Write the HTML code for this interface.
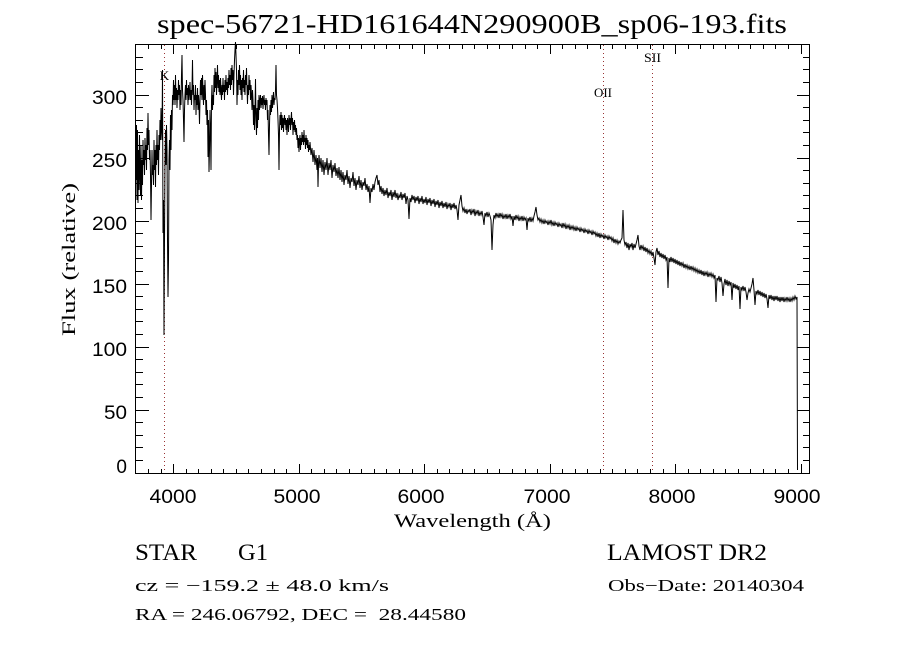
<!DOCTYPE html>
<html><head><meta charset="utf-8"><style>html,body{margin:0;padding:0;background:#fff}svg{display:block}</style></head>
<body>
<svg width="900" height="650" viewBox="0 0 900 650" xmlns="http://www.w3.org/2000/svg">
<rect x="0" y="0" width="900" height="650" fill="#fff"/>
<!-- title -->
<text x="157" y="33" font-family="Liberation Serif, serif" font-size="27" textLength="630" lengthAdjust="spacingAndGlyphs" fill="#000">spec-56721-HD161644N290900B_sp06-193.fits</text>

<!-- dotted line markers -->
<g stroke="#993333" stroke-width="1" stroke-dasharray="1,3" fill="none">
<line x1="164.5" y1="45" x2="164.5" y2="473"/>
<line x1="603.5" y1="45" x2="603.5" y2="473"/>
<line x1="652.5" y1="45" x2="652.5" y2="473"/>
</g>
<g font-family="Liberation Serif, serif" font-size="13" fill="#000" text-anchor="middle">
<text x="164.5" y="80">K</text>
<text x="603" y="97" textLength="18" lengthAdjust="spacingAndGlyphs">OII</text>
<text x="652.5" y="62" textLength="17" lengthAdjust="spacingAndGlyphs">SII</text>
</g>

<!-- spectrum -->
<polyline fill="none" stroke="#000" stroke-width="1" stroke-linejoin="miter" points="
136,180 136.5,125 137,200 137.5,130 138,203 138.5,150 139,190 139.5,135 140,175 140.5,195 141,145 141.5,200 142,160 142.5,185 143,140 143.5,165 144,150 144.5,175 145,138 145.5,160 146,145 146.5,170 147,128 147.5,150 148,113 148.5,145 149,130 149.5,160 150,150 150.5,175 151,220 151.5,185 152,150 152.5,175 153,165 153.5,185 154,140 154.5,170 155,150 155.5,187 156,145 156.5,165 157,130 157.5,160 158,145 158.5,175 159,135 159.5,150 160,120 160.5,140 161,108 161.5,130 162,140 162.5,70 163,233 163.5,200 164,335 164.5,240 165,160 165.5,130 166,165 166.5,125 167,150 167.5,240 168,297 168.5,260 169,160 169.5,140 170,170 170.5,115 171,150 171.5,110 172,130 172.5,95 173,105 173.5,80 174,100 174.5,85 175,105 175.5,75 176,100 176.5,88 177,108 177.5,90 178,100 178.5,80 179,95 179.5,85 180,110 180.5,90 181,105 181.5,75 182,55 182.5,90 183,100 183.5,120 184,142 184.5,110 185,95 185.5,85 186,100 186.5,80 187,95 187.5,88 188,105 188.5,85 189,100 189.5,92 190,82 190.5,100 191,90 191.5,105 192,88 192.5,60 193,95 193.5,85 194,110 194.5,95 195,100 195.5,85 196,115 196.5,95 197,105 197.5,88 198,110 198.5,95 199,105 199.5,124 200,100 200.5,80 201,95 201.5,78 202,100 202.5,75 203,90 203.5,105 204,85 204.5,100 205,80 205.5,95 206,115 206.5,100 207,125 207.5,110 208,157 208.5,120 209,172 209.5,150 210,110 210.5,130 211,170 211.5,100 212,85 212.5,110 213,95 213.5,105 214,75 214.5,92 215,68 215.5,88 216,72 216.5,95 217,80 217.5,65 218,88 218.5,75 219,92 219.5,80 220,95 220.5,78 221,90 221.5,100 222,85 222.5,95 223,78 223.5,92 224,85 224.5,100 225,80 225.5,92 226,75 226.5,90 227,82 227.5,95 228,78 228.5,88 229,70 229.5,85 230,75 230.5,90 231,68 231.5,85 232,65 232.5,80 233,70 233.5,95 234,75 234.5,60 235,50 235.5,42 236,55 236.5,70 237,105 237.5,80 238,95 238.5,70 239,85 239.5,65 240,90 240.5,75 241,95 241.5,80 242,100 242.5,78 243,88 243.5,70 244,92 244.5,80 245,95 245.5,75 246,85 246.5,68 247,88 247.5,104 248,85 248.5,95 249,75 249.5,90 250,80 250.5,100 251,85 251.5,95 252,110 252.5,90 253,100 253.5,125 254,105 254.5,130 255,110 255.5,79 256,120 256.5,135 257,108 257.5,128 258,100 258.5,120 259,95 259.5,110 260,100 260.5,95 261,108 261.5,98 262,105 262.5,96 263,109 263.5,100 264,95 264.5,105 265,100 265.5,110 266,98 266.5,105 267,100 267.5,120 268,110 268.5,135 269,155 269.5,125 270,105 270.5,115 271,100 271.5,112 272,95 272.5,108 273,100 273.5,92 274,105 274.5,98 275,100 275.5,90 276,65 276.5,95 277,100 277.5,108 278,120 278.5,135 279,170 279.5,130 280,115 280.5,125 281,112 281.5,130 282,115 282.5,128 283,118 283.5,132 284,120 284.5,115 285,125 285.5,118 286,130 286.5,120 287,135 287.5,118 288,122 288.5,132 289,115 289.5,125 290,118 290.5,130 291,120 291.5,112 292,125 292.5,118 293,135 293.5,122 294,130 294.5,120 295,132 295.5,125 296,135 296.5,128 297,140 297.5,135 298,148 298.5,138 299,152 299.5,140 300,135 300.5,150 301,138 301.5,145 302,132 302.5,142 303,135 303.5,145 304,130 304.5,142 305,138 305.5,149 306,135 306.5,145 307,138 307.5,148 308,140 308.5,152 309,145 309.5,150 310,142 311,155 312,148 313,162 314,150 315,165 316,155 317,170 317.5,158 318,187 318.5,165 319,155 320,168 321,158 322,172 323,160 324,175 325,162 326,170 327,158 328,175 329,163 330,170 331,160 332,178 333,165 334,172 335,163 336,176 337,168 338,178 339,167 340,180
341,170 342,182 343,172 344,185 345,175 346,180 347,170 348,184 349,176 350,188 351,178 352,182 353,172 354,186 355,178 356,190 357,180 358,185 359,176 360,188 361,180 362,190 363,182 364,186 365,178 366,190 367,184 368,192 369,186 370,203 371,188 372,192 373,184 374,190 375,182 376,178 377,175 378,185 379,180 380,192 381,186 382,194 383,188 384,196 385,190 386,195 387,188 388,198 389,192 390,196 391,190 392,200 393,192 394,197 395,190 396,198 397,193 398,200 399,195 400,198 401,192 402,200 403,194 404,198 405,193 406,204 407,196 408,200 409,219 410,198 411,202 412,195 413,200 414,196 415,203 416,197 417,201 418,196 419,204 420,198 421,202 422,196 423,204 424,199 425,203 426,197 427,205 428,199 429,203 430,198 431,206 432,200 433,204 434,199 435,207 436,201 437,205 438,200 439,208 440,202 441,206 442,201 443,208 444,203 445,207 446,202 447,209 448,204 449,207 450,203 451,210 452,204 453,208 454,203 455,209 456,205 457,210 458,220 459,205 460,200 461,195 462,206 463,211 464,208 465,213 466,209 467,214 468,210 469,212 470,209 471,215 472,210 473,213 474,209 475,216 476,211 477,214 478,210 479,216 480,212 481,215 482,211 483,217 484,225 485,213 486,216 487,212 488,217 489,213 490,216 491,220 492,250 493,225 494,215 495,218 496,213 497,217 498,214 499,218 500,213 501,217 502,214 503,219 504,215 505,218 506,214 507,219 508,215 509,218 510,214 511,219 512,216 513,226 514,216 515,220 516,215 517,219 518,216 519,221 520,217 521,220 522,216 523,221 524,217 525,220 526,218 527,230 528,218 529,221 530,217 531,222 532,218 533,221 534,216 535,212 536,207 537,215 538,220 539,218 540,222 541,219 542,223 543,220 544,224 545,220 546,223 547,221 548,225 549,221 550,224 551,220 552,225 553,222 554,226 555,222 556,225 557,223 558,227 559,223 560,226 561,224 562,228 563,223 564,227 565,224 566,229 567,225 568,228 569,225 570,230 571,226 572,229 573,226 574,230 575,227 576,231 577,227 578,230 579,228 580,232 581,228 582,231 583,229 584,233 585,229 586,232 587,230 588,234 589,230 590,233 591,231 592,235 593,231 594,234 595,232 596,236 597,233 598,237 599,233 600,238 601,234 602,237 603,235 604,239 605,235 606,238 607,236 608,240 609,236 610,239 611,237 612,241 613,238 614,243 615,239 616,243 617,240 618,244 619,241 620,243 621,240 622,238 623,210 624,240 625,245 626,242 627,248 628,243 629,250 630,244 631,247 632,243 633,250 634,244 635,248 636,244 637,240 638,235 639,246 640,250 641,245 642,249 643,246 644,251 645,247 646,252 647,248 648,253 649,250 650,254 651,251 652,256 653,252 654,258 655,265 656,252 657,248 658,255 659,251 660,257 661,253 662,258 663,254 664,259 665,255 666,260 667,257 668,288 669,258 670,262 671,257 672,262 673,258 674,263 675,259 676,264 677,260 678,265 679,261 680,266 681,262 682,266 683,263 684,268 685,264 686,268 687,265 688,269 689,266 690,270 691,266 692,270 693,267 694,271 695,268 696,272 697,269 698,273 699,270 700,274 701,270 702,275 703,271 704,276 705,272 706,275 707,272 708,277 709,273 710,276 711,273 712,277 713,274 714,278 715,275 716,302 717,278 718,280 719,276 720,282 721,277 722,283 723,296 724,284 725,279 726,285 727,280 728,286 729,281 730,285 731,282 732,300 733,283 734,288 735,284 736,289 737,285 738,290 739,286 740,309 741,287 742,290 743,286 744,291 745,287 746,292 747,300 748,293 749,289 750,292 751,288 752,284 753,278 754,290 755,305 756,291 757,294 758,290 759,295 760,291 761,296 762,292 763,297 764,293 765,298 766,294 767,299 768,308 769,295 770,299 771,295 772,300 773,296 774,301 775,296 776,300 777,296 778,301 779,297 780,302 781,297 782,301 783,297 784,302 785,298 786,301 787,297 788,301 789,298 790,302 791,298 792,301 793,297 794,300 795,296 796,299 797,297 797.5,470"/>

<!-- axes box -->
<rect x="135.5" y="44.5" width="674" height="429" fill="none" stroke="#000" stroke-width="1"/>

<!-- ticks -->
<path fill="none" stroke="#000" stroke-width="1" d="
M173.5 473v-9 M299.5 473v-9 M424.5 473v-9 M550.5 473v-9 M675.5 473v-9 M801.5 473v-9
M173.5 45v9 M299.5 45v9 M424.5 45v9 M550.5 45v9 M675.5 45v9 M801.5 45v9
M148.5 473v-4 M161.5 473v-4 M186.5 473v-4 M198.5 473v-4 M211.5 473v-4 M223.5 473v-4 M236.5 473v-4 M248.5 473v-4 M261.5 473v-4 M274.5 473v-4 M286.5 473v-4 M311.5 473v-4 M324.5 473v-4 M336.5 473v-4 M349.5 473v-4 M361.5 473v-4 M374.5 473v-4 M386.5 473v-4 M399.5 473v-4 M412.5 473v-4 M437.5 473v-4 M449.5 473v-4 M462.5 473v-4 M474.5 473v-4 M487.5 473v-4 M499.5 473v-4 M512.5 473v-4 M525.5 473v-4 M537.5 473v-4 M562.5 473v-4 M575.5 473v-4 M587.5 473v-4 M600.5 473v-4 M612.5 473v-4 M625.5 473v-4 M637.5 473v-4 M650.5 473v-4 M663.5 473v-4 M688.5 473v-4 M700.5 473v-4 M713.5 473v-4 M725.5 473v-4 M738.5 473v-4 M750.5 473v-4 M763.5 473v-4 M775.5 473v-4 M788.5 473v-4
M148.5 45v4 M161.5 45v4 M186.5 45v4 M198.5 45v4 M211.5 45v4 M223.5 45v4 M236.5 45v4 M248.5 45v4 M261.5 45v4 M274.5 45v4 M286.5 45v4 M311.5 45v4 M324.5 45v4 M336.5 45v4 M349.5 45v4 M361.5 45v4 M374.5 45v4 M386.5 45v4 M399.5 45v4 M412.5 45v4 M437.5 45v4 M449.5 45v4 M462.5 45v4 M474.5 45v4 M487.5 45v4 M499.5 45v4 M512.5 45v4 M525.5 45v4 M537.5 45v4 M562.5 45v4 M575.5 45v4 M587.5 45v4 M600.5 45v4 M612.5 45v4 M625.5 45v4 M637.5 45v4 M650.5 45v4 M663.5 45v4 M688.5 45v4 M700.5 45v4 M713.5 45v4 M725.5 45v4 M738.5 45v4 M750.5 45v4 M763.5 45v4 M775.5 45v4 M788.5 45v4
M136 410.5h13 M136 347.5h13 M136 284.5h13 M136 221.5h13 M136 158.5h13 M136 95.5h13
M810 410.5h-13 M810 347.5h-13 M810 284.5h-13 M810 221.5h-13 M810 158.5h-13 M810 95.5h-13
M136 460.5h7 M136 447.5h7 M136 435.5h7 M136 422.5h7 M136 397.5h7 M136 384.5h7 M136 372.5h7 M136 359.5h7 M136 334.5h7 M136 321.5h7 M136 309.5h7 M136 296.5h7 M136 271.5h7 M136 258.5h7 M136 246.5h7 M136 233.5h7 M136 208.5h7 M136 195.5h7 M136 183.5h7 M136 170.5h7 M136 145.5h7 M136 132.5h7 M136 120.5h7 M136 107.5h7 M136 82.5h7 M136 69.5h7 M136 57.5h7
M810 460.5h-7 M810 447.5h-7 M810 435.5h-7 M810 422.5h-7 M810 397.5h-7 M810 384.5h-7 M810 372.5h-7 M810 359.5h-7 M810 334.5h-7 M810 321.5h-7 M810 309.5h-7 M810 296.5h-7 M810 271.5h-7 M810 258.5h-7 M810 246.5h-7 M810 233.5h-7 M810 208.5h-7 M810 195.5h-7 M810 183.5h-7 M810 170.5h-7 M810 145.5h-7 M810 132.5h-7 M810 120.5h-7 M810 107.5h-7 M810 82.5h-7 M810 69.5h-7 M810 57.5h-7
"/>

<!-- y tick labels -->
<g font-family="Liberation Sans, sans-serif" font-size="19" fill="#000" text-anchor="end">
<text x="127" y="473">0</text>
<text x="127" y="419" textLength="23" lengthAdjust="spacingAndGlyphs">50</text>
<text x="127" y="356" textLength="35" lengthAdjust="spacingAndGlyphs">100</text>
<text x="127" y="293" textLength="35" lengthAdjust="spacingAndGlyphs">150</text>
<text x="127" y="230" textLength="35" lengthAdjust="spacingAndGlyphs">200</text>
<text x="127" y="167" textLength="35" lengthAdjust="spacingAndGlyphs">250</text>
<text x="127" y="104" textLength="35" lengthAdjust="spacingAndGlyphs">300</text>
</g>

<!-- x tick labels -->
<g font-family="Liberation Sans, sans-serif" font-size="19" fill="#000" text-anchor="middle">
<text x="173" y="503" textLength="47" lengthAdjust="spacingAndGlyphs">4000</text>
<text x="297" y="503" textLength="47" lengthAdjust="spacingAndGlyphs">5000</text>
<text x="421" y="503" textLength="47" lengthAdjust="spacingAndGlyphs">6000</text>
<text x="547" y="503" textLength="47" lengthAdjust="spacingAndGlyphs">7000</text>
<text x="672" y="503" textLength="47" lengthAdjust="spacingAndGlyphs">8000</text>
<text x="797" y="503" textLength="47" lengthAdjust="spacingAndGlyphs">9000</text>
</g>

<!-- axis titles -->
<text x="394" y="527" font-family="Liberation Serif, serif" font-size="19" textLength="157" lengthAdjust="spacingAndGlyphs" fill="#000">Wavelength (Å)</text>
<text transform="translate(75,259.5) rotate(-90)" x="0" y="0" text-anchor="middle" font-family="Liberation Serif, serif" font-size="19" textLength="153" lengthAdjust="spacingAndGlyphs" fill="#000">Flux (relative)</text>

<!-- info text -->
<g font-family="Liberation Serif, serif" fill="#000">
<text x="135" y="560" font-size="23" textLength="62" lengthAdjust="spacingAndGlyphs">STAR</text>
<text x="238" y="560" font-size="23" textLength="30" lengthAdjust="spacingAndGlyphs">G1</text>
<text x="607" y="560" font-size="23" textLength="160" lengthAdjust="spacingAndGlyphs">LAMOST DR2</text>
<text x="135" y="591" font-size="17" textLength="254" lengthAdjust="spacingAndGlyphs">cz = −159.2 ± 48.0 km/s</text>
<text x="608" y="591" font-size="17" textLength="196" lengthAdjust="spacingAndGlyphs">Obs−Date: 20140304</text>
<text x="135" y="620" font-size="17" textLength="331" lengthAdjust="spacingAndGlyphs" xml:space="preserve">RA = 246.06792, DEC =  28.44580</text>
</g>
</svg>
</body></html>
